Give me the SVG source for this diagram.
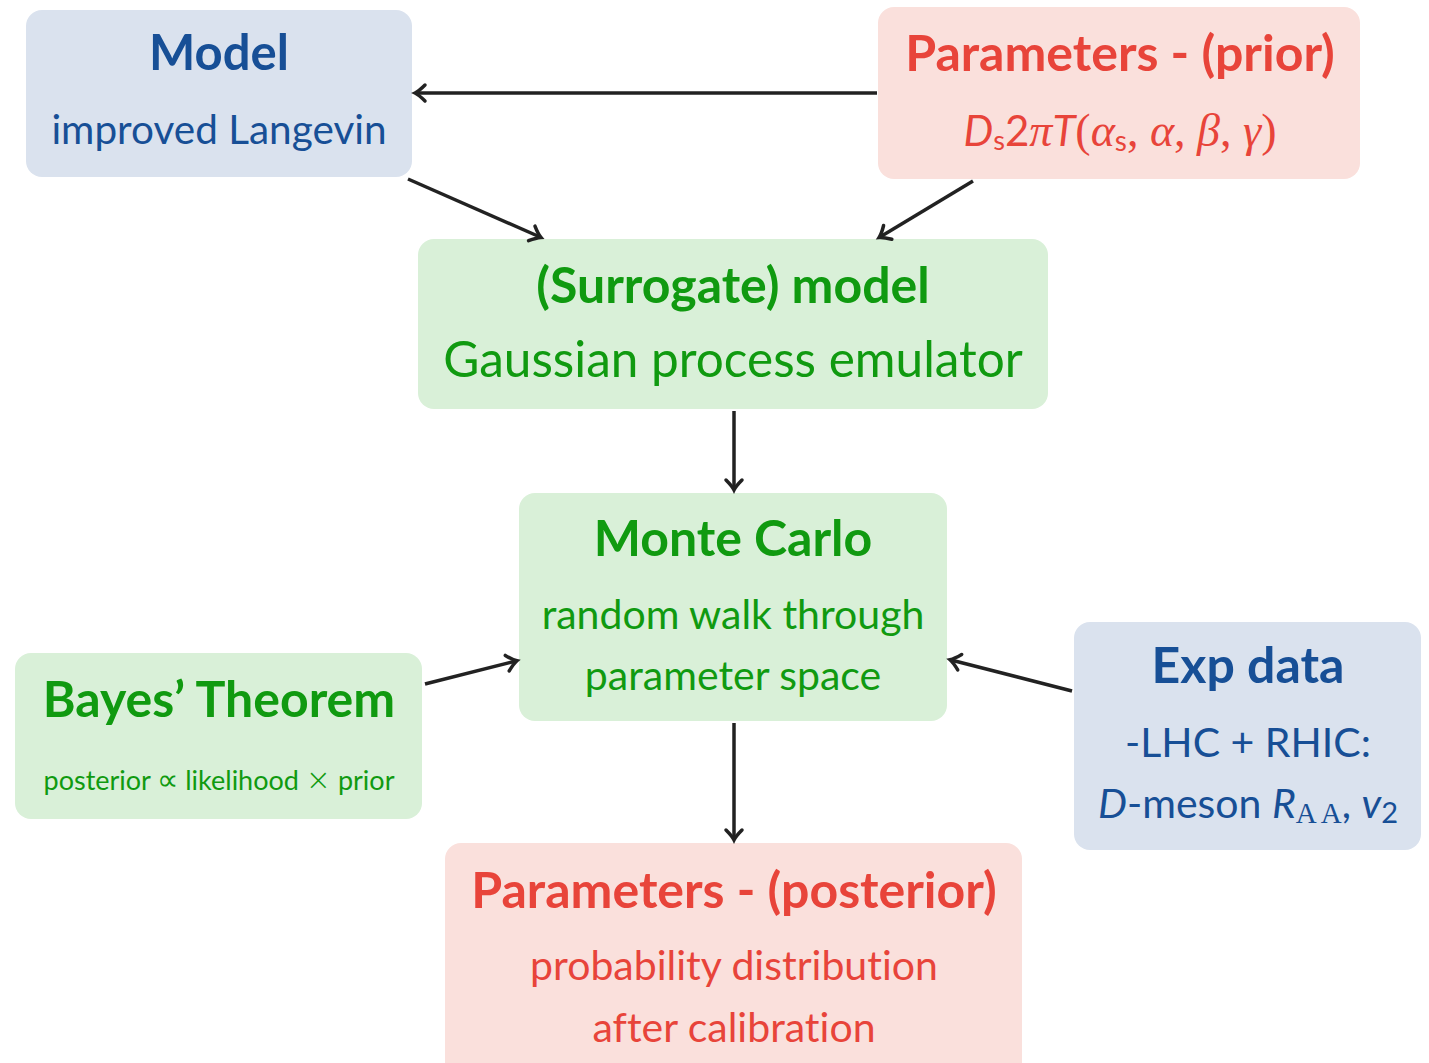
<svg xmlns="http://www.w3.org/2000/svg" width="1429" height="1063" viewBox="0 0 1429 1063">
<style>
.bg{fill:#ffffff}
.blue{fill:#dae2ee}
.red{fill:#fae0dc}
.green{fill:#d9f0d8}
text{font-family:Lato,"Noto Sans","Liberation Sans",sans-serif;text-anchor:middle;font-variant-ligatures:no-common-ligatures}
.tb{fill:#174f96}
.tr{fill:#e8443a}
.tg{fill:#109a10}
.title{font-weight:bold;font-size:50px}
.sub{font-size:41px}
.it{font-style:italic}
.m{font-family:"Liberation Serif","DejaVu Serif",serif;font-style:italic}
.mr{font-family:"Liberation Serif","DejaVu Serif",serif;font-style:normal}
.sym{font-family:"DejaVu Sans",sans-serif;font-weight:200;font-style:normal}
.conn{stroke:#222;stroke-width:3.5;fill:none}
</style>
<defs>
<marker id="ah" markerUnits="userSpaceOnUse" markerWidth="30" markerHeight="30" refX="0" refY="0" viewBox="-15 -15 30 30" orient="auto" overflow="visible">
<path d="M -9 -8 Q -3 -2 1 0 Q -3 2 -9 8" stroke="#222" stroke-width="3.5" fill="none" stroke-linecap="round"/>
</marker>
</defs>
<rect class="bg" x="0" y="0" width="1429" height="1063"/>
<g id="model">
<rect class="blue" x="26" y="10" width="386" height="167" rx="16"/>
<text class="tb title" x="219" y="70" style="font-size:49px">Model</text>
<text class="tb sub" x="219" y="144" style="font-size:40.5px">improved Langevin</text>
</g>
<g id="prior">
<rect class="red" x="878" y="7" width="482" height="172" rx="16"/>
<text class="tr title" x="1120" y="71">Parameters - (prior)</text>
<text class="tr" x="1120" y="146" style="font-size:42px"><tspan class="it">D</tspan><tspan font-size="27" dy="4">s</tspan><tspan dy="-4">2</tspan><tspan class="m" font-size="46">π</tspan><tspan class="it">T</tspan><tspan class="mr" font-size="46">(</tspan><tspan class="m" font-size="46">α</tspan><tspan font-size="28" dy="5">s</tspan><tspan class="mr" font-size="46" dy="-5">,  </tspan><tspan class="m" font-size="46">α</tspan><tspan class="mr" font-size="46">,  </tspan><tspan class="m" font-size="46">β</tspan><tspan class="mr" font-size="46">,  </tspan><tspan class="m" font-size="46">γ</tspan><tspan class="mr" font-size="46">)</tspan></text>
</g>
<g id="surrogate">
<rect class="green" x="418" y="239" width="630" height="170" rx="16"/>
<text class="tg title" x="733" y="303">(Surrogate) model</text>
<text class="tg" x="733" y="377" style="font-size:49.5px">Gaussian process emulator</text>
</g>
<g id="montecarlo">
<rect class="green" x="519" y="493" width="428" height="228" rx="16"/>
<text class="tg title" x="733" y="556">Monte Carlo</text>
<text class="tg sub" x="733" y="629">random walk through</text>
<text class="tg sub" x="733" y="690">parameter space</text>
</g>
<g id="bayes">
<rect class="green" x="15" y="653" width="407" height="166" rx="16"/>
<text class="tg title" x="219" y="717">Bayes’ Theorem</text>
<text class="tg" x="219" y="790" style="font-size:27px">posterior <tspan class="sym" font-size="30">∝</tspan> likelihood <tspan class="sym" font-size="30">×</tspan> prior</text>
</g>
<g id="expdata">
<rect class="blue" x="1074" y="622" width="347" height="228" rx="16"/>
<text class="tb title" x="1248" y="683">Exp data</text>
<text class="tb sub" x="1248" y="757">-LHC + RHIC:</text>
<text class="tb sub" x="1248" y="818"><tspan class="it">D</tspan>-meson <tspan class="it">R</tspan><tspan class="mr" font-size="29" dy="5">A A</tspan><tspan dy="-5">, </tspan><tspan class="it">v</tspan><tspan font-size="29" dy="5">2</tspan></text>
</g>
<g id="posterior">
<rect class="red" x="445" y="843" width="577" height="240" rx="16"/>
<text class="tr title" x="734" y="908">Parameters - (posterior)</text>
<text class="tr sub" x="734" y="980">probability distribution</text>
<text class="tr sub" x="734" y="1042">after calibration</text>
</g>
<g id="connectors">
<line class="conn" x1="877" y1="93" x2="416" y2="93" marker-end="url(#ah)"/>
<line class="conn" x1="408" y1="179" x2="540" y2="237" marker-end="url(#ah)"/>
<line class="conn" x1="973" y1="181" x2="880" y2="237" marker-end="url(#ah)"/>
<line class="conn" x1="734" y1="411" x2="734" y2="489" marker-end="url(#ah)"/>
<line class="conn" x1="425" y1="684" x2="516" y2="661" marker-end="url(#ah)"/>
<line class="conn" x1="1072" y1="691" x2="951" y2="660" marker-end="url(#ah)"/>
<line class="conn" x1="734" y1="723" x2="734" y2="839" marker-end="url(#ah)"/>
</g>
</svg>
